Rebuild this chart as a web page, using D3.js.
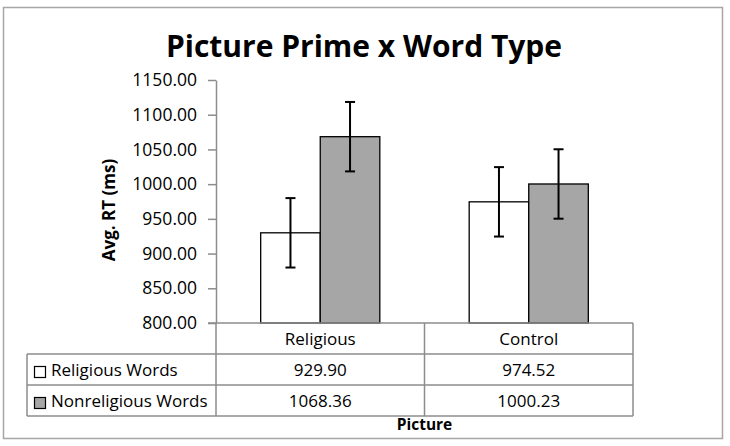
<!DOCTYPE html>
<html>
<head>
<meta charset="utf-8">
<script src="https://cdn.jsdelivr.net/npm/d3@7"></script>
<style>
  body { margin: 0; background: #fff; }
  svg { display: block; font-family: "Open Sans", Lato, sans-serif; }
</style>
</head>
<body>
<div id="chart"></div>
<script>
// data
const categories = ["Religious", "Control"];
const seriesNames = ["Religious Words", "Nonreligious Words"];
const religiousWords = [929.90, 974.52];
const nonreligiousWords = [1068.36, 1000.23];
const religiousErr = [50, 50];
const nonreligiousErr = [50, 50];
const yTicks = [800, 850, 900, 950, 1000, 1050, 1100, 1150];
const seriesFill = ["#ffffff", "#a6a6a6"];

const width = 730, height = 446;
const plot = { left: 216, right: 633, top: 80, bottom: 323 };
const rowH = 31;
const legendLeft = 27;
const lineColor = "#8c8c8c";
const fontFam = "'Open Sans', Lato, sans-serif";

const svg = d3.select("#chart").append("svg")
    .attr("width", width)
    .attr("height", height);

// chart border
svg.append("rect")
    .attr("x", 3.5).attr("y", 7.5)
    .attr("width", 719).attr("height", 431)
    .attr("fill", "#fff")
    .attr("stroke", "#a6a6a6")
    .attr("stroke-width", 1.5);

svg.append("text")
    .attr("x", 364).attr("y", 57)
    .attr("text-anchor", "middle")
    .attr("font-size", 30)
    .attr("font-weight", "bold")
    .text("Picture Prime x Word Type");

const x = d3.scaleBand().domain(categories).range([plot.left, plot.right]);
const x1 = d3.scaleBand().domain(seriesNames).range([0, x.bandwidth()])
    .paddingInner(0).paddingOuter(0.75);
const y = d3.scaleLinear().domain([800, 1150]).range([plot.bottom, plot.top]);

// y axis
const yAxis = svg.append("g")
    .attr("transform", `translate(${plot.left},0)`)
    .call(d3.axisLeft(y).tickValues(yTicks).tickFormat(d3.format(".2f"))
        .tickSize(8).tickSizeOuter(0).tickPadding(11));
yAxis.select(".domain").attr("stroke", lineColor).attr("stroke-width", 1.5);
yAxis.selectAll(".tick line").attr("stroke", lineColor).attr("stroke-width", 1.5);
yAxis.selectAll(".tick text")
    .attr("font-size", 17.5)
    .attr("font-family", fontFam)
    .attr("fill", "#000");

svg.append("text")
    .attr("transform", "translate(115,210) rotate(-90)")
    .attr("text-anchor", "middle")
    .attr("font-size", 17)
    .attr("font-weight", "bold")
    .text("Avg. RT (ms)");

// bars
const rows = categories.map((c, i) => ({
  cat: c,
  vals: [
    { s: seriesNames[0], v: religiousWords[i], e: religiousErr[i], fill: seriesFill[0] },
    { s: seriesNames[1], v: nonreligiousWords[i], e: nonreligiousErr[i], fill: seriesFill[1] }
  ]
}));

const groups = svg.selectAll("g.grp").data(rows).join("g")
    .attr("class", "grp")
    .attr("transform", d => `translate(${x(d.cat)},0)`);

groups.selectAll("rect").data(d => d.vals).join("rect")
    .attr("x", d => x1(d.s))
    .attr("y", d => y(d.v))
    .attr("width", x1.bandwidth())
    .attr("height", d => y(800) - y(d.v))
    .attr("fill", d => d.fill)
    .attr("stroke", "#000")
    .attr("stroke-width", 1.3);

const err = groups.selectAll("g.err").data(d => d.vals).join("g")
    .attr("class", "err")
    .attr("stroke", "#000")
    .attr("stroke-width", 2);
err.append("line")
    .attr("x1", d => x1(d.s) + x1.bandwidth() / 2)
    .attr("x2", d => x1(d.s) + x1.bandwidth() / 2)
    .attr("y1", d => y(d.v + d.e))
    .attr("y2", d => y(d.v - d.e));
err.selectAll("line.cap").data(d => [[d, d.v + d.e], [d, d.v - d.e]]).join("line")
    .attr("class", "cap")
    .attr("x1", d => x1(d[0].s) + x1.bandwidth() / 2 - 5)
    .attr("x2", d => x1(d[0].s) + x1.bandwidth() / 2 + 5)
    .attr("y1", d => y(d[1]))
    .attr("y2", d => y(d[1]));

// data table
const table = svg.append("g")
    .attr("stroke", lineColor)
    .attr("stroke-width", 1.5)
    .attr("fill", "none");
const tTop = plot.bottom;
const tBottom = tTop + rowH * 3;
// horizontal lines
table.append("line").attr("x1", plot.left - 8).attr("x2", plot.right).attr("y1", tTop).attr("y2", tTop);
[1, 2, 3].forEach(r => {
  table.append("line")
      .attr("x1", legendLeft).attr("x2", plot.right)
      .attr("y1", tTop + rowH * r).attr("y2", tTop + rowH * r);
});
// vertical lines
table.append("line").attr("x1", legendLeft).attr("x2", legendLeft)
    .attr("y1", tTop + rowH).attr("y2", tBottom);
[plot.left, x("Control"), plot.right].forEach(xx => {
  table.append("line").attr("x1", xx).attr("x2", xx).attr("y1", tTop).attr("y2", tBottom);
});

const cellFont = 17;
svg.selectAll("text.cat").data(categories).join("text")
    .attr("class", "cat")
    .attr("x", d => x(d) + x.bandwidth() / 2)
    .attr("y", tTop + 22)
    .attr("text-anchor", "middle")
    .attr("font-size", cellFont)
    .text(d => d);

const seriesValues = [religiousWords, nonreligiousWords];
seriesNames.forEach((s, r) => {
  const rowY = tTop + rowH * (r + 1);
  svg.append("rect")
      .attr("x", 34.5).attr("y", rowY + 12.5)
      .attr("width", 11).attr("height", 11)
      .attr("fill", seriesFill[r])
      .attr("stroke", "#000")
      .attr("stroke-width", 1.2);
  svg.append("text")
      .attr("x", 51).attr("y", rowY + 22)
      .attr("font-size", cellFont)
      .text(s);
  svg.selectAll(null).data(categories).join("text")
      .attr("x", d => x(d) + x.bandwidth() / 2)
      .attr("y", rowY + 22)
      .attr("text-anchor", "middle")
      .attr("font-size", cellFont)
      .text((d, i) => d3.format(".2f")(seriesValues[r][i]));
});

svg.append("text")
    .attr("x", (plot.left + plot.right) / 2)
    .attr("y", 430)
    .attr("text-anchor", "middle")
    .attr("font-size", 15.5)
    .attr("font-weight", "bold")
    .text("Picture");
</script>
</body>
</html>
